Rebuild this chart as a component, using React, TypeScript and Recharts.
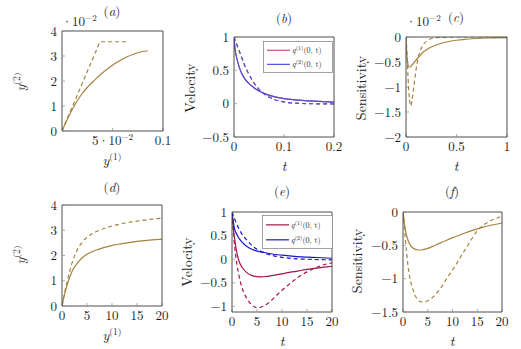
import React from 'react';
import { LineChart, Line, XAxis, YAxis, Legend } from 'recharts';

const FONT = '"Latin Modern Roman", "Liberation Serif", "Times New Roman", serif';

const BROWN = '#a5823f';
const RED_B = '#c8507a';
const BLUE_B = '#5050e0';
const RED_E = '#a0164c';
const BLUE_E = '#1818c0';

// ---------- panel (a) ----------  (y in units of 1e-2)
const aSolidX = [0, 0.005, 0.01, 0.015, 0.02, 0.025, 0.03, 0.035, 0.04, 0.045, 0.05, 0.055, 0.06, 0.065, 0.07, 0.075, 0.08, 0.085];
const aSolidY = [0, 0.45, 0.85, 1.2, 1.5, 1.74, 1.95, 2.14, 2.32, 2.48, 2.63, 2.76, 2.88, 2.98, 3.06, 3.13, 3.18, 3.21];
const aDashX = [0, 0.005, 0.01, 0.015, 0.02, 0.025, 0.03, 0.035, 0.038, 0.066];
const aDashY = [0, 0.48, 0.95, 1.42, 1.9, 2.38, 2.85, 3.32, 3.57, 3.57];
const aXTicks = [0.05, 0.1];
const aYTicks = [0, 1, 2, 3, 4];

// ---------- panel (b) ----------
const bSolidX = [0, 0.002, 0.005, 0.01, 0.015, 0.02, 0.03, 0.04, 0.05, 0.06, 0.08, 0.1, 0.12, 0.15, 0.2];
const bRedSolidY = [1, 0.82, 0.7, 0.56, 0.46, 0.39, 0.3, 0.24, 0.19, 0.155, 0.105, 0.075, 0.058, 0.043, 0.022];
const bBlueSolidY = [1, 0.82, 0.7, 0.56, 0.46, 0.39, 0.3, 0.24, 0.19, 0.155, 0.105, 0.075, 0.058, 0.043, 0.022];
const bDashX = [0, 0.005, 0.01, 0.015, 0.02, 0.03, 0.04, 0.05, 0.06, 0.07, 0.08, 0.1, 0.12, 0.15, 0.2];
const bRedDashY = [1, 0.9, 0.8, 0.7, 0.6, 0.44, 0.31, 0.215, 0.15, 0.1, 0.065, 0.025, 0.008, 0, -0.005];
const bBlueDashY = [1, 0.9, 0.8, 0.7, 0.6, 0.44, 0.31, 0.215, 0.15, 0.1, 0.065, 0.025, 0.008, 0, -0.005];
const bXTicks = [0, 0.1, 0.2];
const bYTicks = [-0.5, 0, 0.5, 1];

// ---------- panel (c) ----------  (y in units of 1e-2)
const cSolidX = [0, 0.005, 0.01, 0.02, 0.03, 0.04, 0.06, 0.08, 0.1, 0.13, 0.16, 0.2, 0.25, 0.3, 0.4, 0.5, 0.6, 0.7, 0.8, 1];
const cSolidY = [0, -0.25, -0.42, -0.56, -0.6, -0.6, -0.56, -0.51, -0.46, -0.39, -0.32, -0.26, -0.2, -0.16, -0.1, -0.065, -0.045, -0.03, -0.02, -0.012];
const cDashX = [0, 0.01, 0.02, 0.03, 0.04, 0.048, 0.06, 0.08, 0.1, 0.12, 0.15, 0.18, 0.22, 0.3, 0.5, 1];
const cDashY = [0, -0.35, -0.8, -1.15, -1.33, -1.38, -1.25, -0.95, -0.65, -0.42, -0.23, -0.13, -0.06, -0.015, 0, 0];
const cXTicks = [0, 0.5, 1];
const cYTicks = [-2, -1.5, -1, -0.5, 0];

// ---------- panel (d) ----------
const dX = [0, 0.5, 1, 1.5, 2, 3, 4, 5, 6, 7, 8, 10, 12, 14, 16, 18, 20];
const dSolidY = [0, 0.45, 0.82, 1.12, 1.37, 1.68, 1.9, 2.05, 2.15, 2.23, 2.29, 2.4, 2.47, 2.53, 2.58, 2.62, 2.65];
const dDashY = [0, 0.5, 0.95, 1.35, 1.7, 2.2, 2.52, 2.72, 2.86, 2.96, 3.04, 3.17, 3.26, 3.33, 3.39, 3.44, 3.48];
const dXTicks = [0, 5, 10, 15, 20];
const dYTicks = [0, 1, 2, 3, 4];

// ---------- panel (e) ----------
const eRedSolidX = [0, 0.5, 1, 1.5, 2, 3, 4, 5, 6, 7, 8, 10, 12, 14, 16, 18, 20];
const eRedSolidY = [0.95, 0.45, 0.12, -0.07, -0.17, -0.29, -0.35, -0.37, -0.375, -0.365, -0.35, -0.31, -0.27, -0.235, -0.2, -0.175, -0.15];
const eRedDashX = [0, 0.5, 1, 1.5, 2, 3, 4, 5, 6, 7, 8, 9, 10, 11, 12, 13, 14, 15, 16, 17, 18, 19, 20];
const eRedDashY = [1, 0.3, -0.12, -0.4, -0.6, -0.84, -0.97, -1.03, -1.01, -0.95, -0.86, -0.76, -0.66, -0.57, -0.48, -0.4, -0.33, -0.27, -0.22, -0.17, -0.13, -0.1, -0.08];
const eBlueSolidX = [0, 0.5, 1, 2, 3, 4, 5, 6, 8, 10, 12, 14, 16, 18, 20];
const eBlueSolidY = [1, 0.65, 0.52, 0.36, 0.27, 0.21, 0.17, 0.15, 0.11, 0.085, 0.065, 0.05, 0.04, 0.03, 0.02];
const eBlueDashX = [0, 1, 2, 3, 4, 5, 6, 7, 8, 10, 12, 14, 16, 18, 20];
const eBlueDashY = [1, 0.73, 0.53, 0.4, 0.29, 0.21, 0.155, 0.11, 0.08, 0.04, 0.015, 0.003, -0.005, -0.01, -0.015];
const eXTicks = [0, 5, 10, 15, 20];
const eYTicks = [-1, -0.5, 0, 0.5, 1];

// ---------- panel (f) ----------
const fSolidX = [0, 0.25, 0.5, 1, 1.5, 2, 2.5, 3, 3.5, 4, 5, 6, 7, 8, 10, 12, 14, 16, 18, 20];
const fSolidY = [0, -0.15, -0.28, -0.42, -0.5, -0.54, -0.56, -0.57, -0.57, -0.565, -0.545, -0.515, -0.48, -0.45, -0.385, -0.33, -0.275, -0.23, -0.195, -0.165];
const fDashX = [0, 0.25, 0.5, 1, 1.5, 2, 2.5, 3, 3.5, 4, 4.5, 5, 6, 7, 8, 9, 10, 11, 12, 13, 14, 15, 16, 17, 18, 19, 20];
const fDashY = [0, -0.2, -0.43, -0.8, -1.03, -1.16, -1.26, -1.31, -1.345, -1.35, -1.345, -1.33, -1.28, -1.2, -1.1, -0.98, -0.87, -0.75, -0.63, -0.51, -0.39, -0.28, -0.21, -0.16, -0.12, -0.09, -0.06];
const fXTicks = [0, 5, 10, 15, 20];
const fYTicks = [-1.5, -1, -0.5, 0];

type Pt = { x: number; y: number };
const zip = (xs: number[], ys: number[]): Pt[] => xs.map((x, i) => ({ x, y: ys[i] }));

const fmt = (v: number) => String(Math.round(v * 1000) / 1000).replace('-', '\u2212');

type Series = { data: Pt[]; color: string; dashed?: boolean };
type LegendSpec = { left: number; top: number; w: number; h: number; items: { color: string; idx: number }[] };
type PanelProps = {
  left: number; top: number; w: number; h: number;
  xDomain: [number, number]; yDomain: [number, number];
  xTicks: number[]; yTicks: number[];
  series: Series[];
  xTick?: any;
  legend?: LegendSpec;
};

const L = 60, T = 30, R = 20, B = 45, YW = 40, XH = 30;

const LegendBox = ({ spec }: { spec: LegendSpec }) => {
  const rows = [spec.h * 0.29, spec.h * 0.73];
  return (
    <svg width={spec.w} height={spec.h} style={{ display: 'block' }}>
      <rect x={0.5} y={0.5} width={spec.w - 1} height={spec.h - 1} fill="#fff" stroke="#8a8a8a" strokeWidth={0.8} />
      {spec.items.map((it, i) => (
        <g key={i}>
          <line x1={4} x2={27} y1={rows[i]} y2={rows[i]} stroke={it.color} strokeWidth={1.2} />
          <text x={29} y={rows[i] + 3} fontFamily={FONT} fontSize={8} fill="#222">
            <tspan fontStyle="italic">q</tspan>
            <tspan dy={-3} fontSize={6}>({it.idx})</tspan>
            <tspan dy={3}>(0, t)</tspan>
          </text>
        </g>
      ))}
    </svg>
  );
};

function Panel(p: PanelProps) {
  const width = L + p.w + R;
  const height = T + p.h + B;
  const axisLine = { stroke: '#3a3a3a', strokeWidth: 0.9 };
  const tickLine = { stroke: '#8a8a8a', strokeWidth: 0.7 };
  const tickStyle = { fill: '#1a1a1a', fontSize: 13, fontFamily: FONT };
  return (
    <div style={{ position: 'absolute', left: p.left - L, top: p.top - T }}>
      <LineChart width={width} height={height} margin={{ top: T - 1, right: R - 1, bottom: B - XH, left: L - YW }}>
        <XAxis xAxisId="b" type="number" dataKey="x" domain={p.xDomain} ticks={p.xTicks} allowDataOverflow interval={0}
          height={XH} axisLine={axisLine} tickLine={tickLine} tickSize={-3} tickMargin={8}
          tick={p.xTick ?? tickStyle} tickFormatter={fmt} />
        <XAxis xAxisId="t" orientation="top" type="number" dataKey="x" domain={p.xDomain} ticks={p.xTicks} allowDataOverflow interval={0}
          height={1} axisLine={axisLine} tickLine={tickLine} tickSize={-3} tick={false} />
        <YAxis yAxisId="l" type="number" domain={p.yDomain} ticks={p.yTicks} allowDataOverflow interval={0}
          width={YW} axisLine={axisLine} tickLine={tickLine} tickSize={-3} tickMargin={8}
          tick={tickStyle} tickFormatter={fmt} />
        <YAxis yAxisId="r" orientation="right" type="number" domain={p.yDomain} ticks={p.yTicks} allowDataOverflow interval={0}
          width={1} axisLine={axisLine} tickLine={tickLine} tickSize={-3} tick={false} />
        {p.series.map((s, i) => (
          <Line key={i} xAxisId="b" yAxisId="l" data={s.data} dataKey="y" type="monotone"
            stroke={s.color} strokeWidth={1.2} strokeDasharray={s.dashed ? '4 3' : undefined}
            dot={false} activeDot={false} isAnimationActive={false} />
        ))}
        {p.legend && (
          <Legend layout="vertical" align="center" verticalAlign="middle"
            wrapperStyle={{ left: p.legend.left - (p.left - L), top: p.legend.top - (p.top - T), width: p.legend.w, height: p.legend.h }}
            content={() => <LegendBox spec={p.legend as LegendSpec} />} />
        )}
      </LineChart>
    </div>
  );
}

const aXTick = (props: any) => {
  const { x, y, payload } = props;
  const v = payload.value;
  return (
    <text x={x} y={y} dy={9} textAnchor="middle" fontFamily={FONT} fontSize={13} fill="#1a1a1a">
      {v === 0.05 ? (
        <>
          5·10<tspan dy={-5} fontSize={9}>{'\u2212'}2</tspan>
        </>
      ) : fmt(v)}
    </text>
  );
};

const Title = ({ x, y, letter }: { x: number; y: number; letter: string }) => (
  <text x={x} y={y} textAnchor="middle" fontFamily={FONT} fontSize={13} fill="#1a1a1a">
    (<tspan fontStyle="italic">{letter}</tspan>)
  </text>
);

const YLabel = ({ x, y, children }: { x: number; y: number; children: React.ReactNode }) => (
  <text transform={`translate(${x},${y}) rotate(-90)`} textAnchor="middle" fontFamily={FONT} fontSize={14} fill="#1a1a1a">
    {children}
  </text>
);

const XLabel = ({ x, y, children }: { x: number; y: number; children: React.ReactNode }) => (
  <text x={x} y={y} textAnchor="middle" fontFamily={FONT} fontSize={14} fill="#1a1a1a">
    {children}
  </text>
);

const YSup = ({ n }: { n: number }) => (
  <>
    <tspan fontStyle="italic">y</tspan>
    <tspan dy={-5} fontSize={9.5}>({n})</tspan>
  </>
);

const Scale = ({ x, y }: { x: number; y: number }) => (
  <text x={x} y={y} fontFamily={FONT} fontSize={13} fill="#1a1a1a">
    ·10<tspan dy={-5} fontSize={9}>{'\u2212'}2</tspan>
  </text>
);

export default function App() {
  return (
    <div style={{ position: 'absolute', left: 0, top: 0, width: 521, height: 349, background: '#fff', overflow: 'hidden' }}>
      <Panel left={62} top={31} w={101} h={100} xDomain={[0, 0.1]} yDomain={[0, 4]} xTicks={aXTicks} yTicks={aYTicks}
        xTick={aXTick}
        series={[
          { data: zip(aDashX, aDashY), color: BROWN, dashed: true },
          { data: zip(aSolidX, aSolidY), color: BROWN },
        ]} />
      <Panel left={234} top={37} w={100} h={100} xDomain={[0, 0.2]} yDomain={[-0.5, 1]} xTicks={bXTicks} yTicks={bYTicks}
        series={[
          { data: zip(bSolidX, bRedSolidY), color: RED_B },
          { data: zip(bDashX, bRedDashY), color: RED_B, dashed: true },
          { data: zip(bSolidX, bBlueSolidY), color: BLUE_B },
          { data: zip(bDashX, bBlueDashY), color: BLUE_B, dashed: true },
        ]}
        legend={{ left: 263, top: 41, w: 70, h: 32, items: [{ color: RED_B, idx: 1 }, { color: BLUE_B, idx: 2 }] }} />
      <Panel left={406} top={37} w={101} h={100} xDomain={[0, 1]} yDomain={[-2, 0]} xTicks={cXTicks} yTicks={cYTicks}
        series={[
          { data: zip(cDashX, cDashY), color: BROWN, dashed: true },
          { data: zip(cSolidX, cSolidY), color: BROWN },
        ]} />
      <Panel left={62} top={205} w={100} h={101} xDomain={[0, 20]} yDomain={[0, 4]} xTicks={dXTicks} yTicks={dYTicks}
        series={[
          { data: zip(dX, dDashY), color: BROWN, dashed: true },
          { data: zip(dX, dSolidY), color: BROWN },
        ]} />
      <Panel left={232} top={212} w={100} h={100} xDomain={[0, 20]} yDomain={[-1.12, 1]} xTicks={eXTicks} yTicks={eYTicks}
        series={[
          { data: zip(eRedSolidX, eRedSolidY), color: RED_E },
          { data: zip(eRedDashX, eRedDashY), color: RED_E, dashed: true },
          { data: zip(eBlueSolidX, eBlueSolidY), color: BLUE_E },
          { data: zip(eBlueDashX, eBlueDashY), color: BLUE_E, dashed: true },
        ]}
        legend={{ left: 262, top: 215, w: 71, h: 34, items: [{ color: RED_E, idx: 1 }, { color: BLUE_E, idx: 2 }] }} />
      <Panel left={403} top={212} w={99} h={100} xDomain={[0, 20]} yDomain={[-1.5, 0]} xTicks={fXTicks} yTicks={fYTicks}
        series={[
          { data: zip(fDashX, fDashY), color: BROWN, dashed: true },
          { data: zip(fSolidX, fSolidY), color: BROWN },
        ]} />

      <svg width={521} height={349} style={{ position: 'absolute', left: 0, top: 0, pointerEvents: 'none' }}>
        <Title x={112} y={16} letter="a" />
        <Title x={284} y={23} letter="b" />
        <Title x={456} y={22} letter="c" />
        <Title x={112} y={192} letter="d" />
        <Title x={282} y={196} letter="e" />
        <Title x={452} y={196} letter="f" />

        <Scale x={62} y={26} />
        <Scale x={406} y={26} />

        <YLabel x={25} y={82}><YSup n={2} /></YLabel>
        <YLabel x={195} y={88}>Velocity</YLabel>
        <YLabel x={366} y={88}>Sensitivity</YLabel>
        <YLabel x={25} y={255}><YSup n={2} /></YLabel>
        <YLabel x={192} y={262}>Velocity</YLabel>
        <YLabel x={362} y={261}>Sensitivity</YLabel>

        <XLabel x={112} y={165}><YSup n={1} /></XLabel>
        <XLabel x={284} y={171}><tspan fontStyle="italic">t</tspan></XLabel>
        <XLabel x={456} y={171}><tspan fontStyle="italic">t</tspan></XLabel>
        <XLabel x={112} y={340}><YSup n={1} /></XLabel>
        <XLabel x={282} y={346}><tspan fontStyle="italic">t</tspan></XLabel>
        <XLabel x={452} y={346}><tspan fontStyle="italic">t</tspan></XLabel>
      </svg>
    </div>
  );
}
